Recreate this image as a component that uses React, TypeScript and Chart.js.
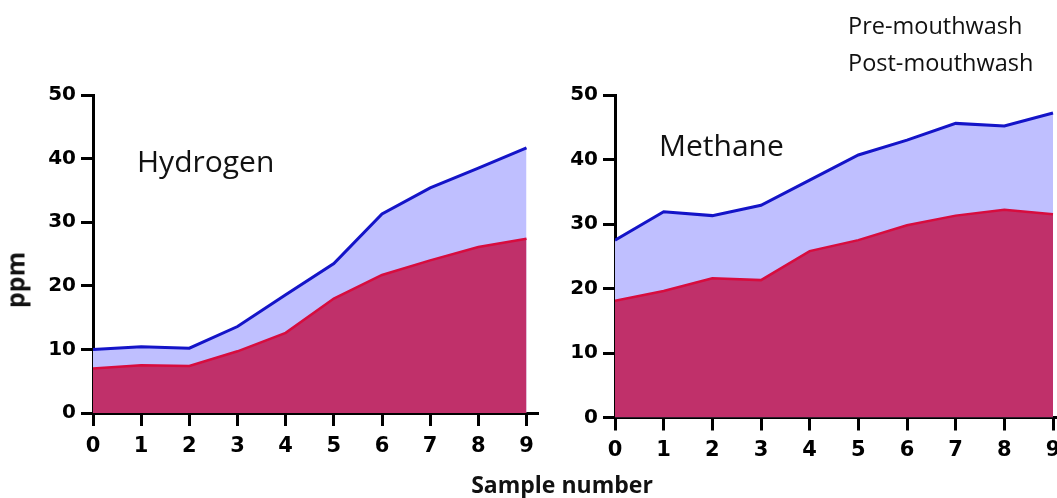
import React, { useEffect, useRef } from "react";
import { Chart, registerables } from "chart.js";

Chart.register(...registerables);

// ---- data ----
const sampleNumbers = [0, 1, 2, 3, 4, 5, 6, 7, 8, 9];
const yTickValues = [0, 10, 20, 30, 40, 50];
const seriesNames = ["Pre-mouthwash", "Post-mouthwash"];
const panelNames = ["Hydrogen", "Methane"];

const hydrogenPre = [10.0, 10.4, 10.2, 13.6, 18.6, 23.5, 31.3, 35.4, 38.5, 41.7];
const hydrogenPost = [7.0, 7.5, 7.4, 9.7, 12.6, 18.0, 21.7, 24.0, 26.1, 27.4];
const methanePre = [27.5, 31.9, 31.3, 32.9, 36.8, 40.7, 43.0, 45.6, 45.2, 47.2];
const methanePost = [18.1, 19.6, 21.6, 21.3, 25.8, 27.5, 29.8, 31.3, 32.2, 31.5];

const yAxisTitle = "ppm";
const xAxisTitle = "Sample number";

// ---- styles ----
const BLUE_LINE = "rgb(20,20,200)";
const BLUE_FILL = "rgb(191,191,255)";
const RED_LINE = "rgb(215,12,62)";
const RED_FILL = "rgb(192,48,106)";

type Geom = {
  w: number;
  h: number;
  left: number;
  top: number;
  xHeight: number;
  padRight: number;
  xMax: number;
  xPad: number;
};

function makeConfig(pre: number[], post: number[], g: Geom): any {
  const pts = (arr: number[]) => sampleNumbers.map((x, i) => ({ x, y: arr[i] }));
  return {
    type: "line",
    data: {
      datasets: [
        {
          label: seriesNames[1],
          data: pts(post),
          borderColor: RED_LINE,
          backgroundColor: RED_FILL,
          fill: "origin",
          borderWidth: 2.5,
          pointRadius: 0,
          tension: 0,
        },
        {
          label: seriesNames[0],
          data: pts(pre),
          borderColor: BLUE_LINE,
          backgroundColor: BLUE_FILL,
          fill: "origin",
          borderWidth: 3,
          pointRadius: 0,
          tension: 0,
        },
      ],
    },
    options: {
      animation: false,
      responsive: false,
      devicePixelRatio: 1,
      events: [],
      layout: { padding: { left: 0, top: g.top, right: g.padRight, bottom: 0 } },
      plugins: { legend: { display: false }, tooltip: { enabled: false }, title: { display: false } },
      scales: {
        x: {
          type: "linear",
          min: 0,
          max: g.xMax,
          z: 1,
          afterBuildTicks: (s: any) => {
            s.ticks = sampleNumbers.map((v) => ({ value: v }));
          },
          afterFit: (s: any) => {
            s.height = g.xHeight;
            s.paddingLeft = 0;
            s.paddingRight = 0;
          },
          grid: {
            display: true,
            drawOnChartArea: false,
            drawTicks: true,
            tickLength: 13,
            tickWidth: 3,
            tickColor: "#000",
            color: "#000",
            lineWidth: 3,
          },
          border: { display: true, color: "#000", width: 3 },
          ticks: {
            color: "#000",
            font: { family: '"DejaVu Sans", sans-serif', weight: "bold", size: 21 },
            padding: g.xPad,
            maxRotation: 0,
            autoSkip: false,
            callback: (v: any) => String(v),
          },
        },
        y: {
          type: "linear",
          min: 0,
          max: 50,
          z: 1,
          afterBuildTicks: (s: any) => {
            s.ticks = yTickValues.map((v) => ({ value: v }));
          },
          afterFit: (s: any) => {
            s.width = g.left;
            s.paddingTop = 0;
            s.paddingBottom = 0;
          },
          grid: {
            display: true,
            drawOnChartArea: false,
            drawTicks: true,
            tickLength: 12,
            tickWidth: 3,
            tickColor: "#000",
            color: "#000",
            lineWidth: 3,
          },
          border: { display: true, color: "#000", width: 3 },
          ticks: {
            color: "#000",
            font: { family: '"DejaVu Sans", sans-serif', weight: "bold", size: 20 },
            padding: 5,
            autoSkip: false,
            callback: (v: any) => String(v),
          },
        },
      },
    },
  };
}

const leftGeom: Geom = {
  w: 560,
  h: 470,
  left: 93,
  top: 95,
  xHeight: 57,
  padRight: 23,
  xMax: (9 * (537 - 93)) / (526.5 - 93),
  xPad: 8,
};

const rightGeom: Geom = {
  w: 540,
  h: 470,
  left: 85,
  top: 95,
  xHeight: 52.5,
  padRight: 7,
  xMax: (9 * (533 - 85)) / (523 - 85),
  xPad: 7,
};

const textBase: React.CSSProperties = {
  position: "absolute",
  fontFamily: '"Open Sans", "Noto Sans", sans-serif',
  lineHeight: 1,
  whiteSpace: "nowrap",
  color: "#111",
};

export default function App() {
  const leftRef = useRef<HTMLCanvasElement | null>(null);
  const rightRef = useRef<HTMLCanvasElement | null>(null);

  useEffect(() => {
    const c1 = new Chart(leftRef.current as HTMLCanvasElement, makeConfig(hydrogenPre, hydrogenPost, leftGeom));
    const c2 = new Chart(rightRef.current as HTMLCanvasElement, makeConfig(methanePre, methanePost, rightGeom));
    return () => {
      c1.destroy();
      c2.destroy();
    };
  }, []);

  return (
    <div
      style={{
        position: "absolute",
        left: 0,
        top: 0,
        width: 1057,
        height: 498,
        overflow: "hidden",
        background: "#fff",
      }}
    >
      <canvas
        ref={leftRef}
        width={leftGeom.w}
        height={leftGeom.h}
        style={{ position: "absolute", left: 0, top: 0, width: leftGeom.w, height: leftGeom.h }}
      />
      <canvas
        ref={rightRef}
        width={rightGeom.w}
        height={rightGeom.h}
        style={{ position: "absolute", left: 530, top: 0, width: rightGeom.w, height: rightGeom.h }}
      />
      <div style={{ ...textBase, left: 137, top: 145.5, fontSize: 30 }}>{panelNames[0]}</div>
      <div style={{ ...textBase, left: 659, top: 130, fontSize: 30 }}>{panelNames[1]}</div>
      <div style={{ ...textBase, left: 848, top: 14, fontSize: 23.5 }}>{seriesNames[0]}</div>
      <div style={{ ...textBase, left: 848, top: 51, fontSize: 23.5 }}>{seriesNames[1]}</div>
      <div
        style={{
          ...textBase,
          left: 562,
          top: 473,
          fontSize: 23,
          fontWeight: 700,
          transform: "translateX(-50%)",
        }}
      >
        {xAxisTitle}
      </div>
      <div
        style={{
          ...textBase,
          left: 15,
          top: 280,
          fontSize: 25,
          fontWeight: 700,
          transform: "translate(-50%, -50%) rotate(-90deg)",
        }}
      >
        {yAxisTitle}
      </div>
    </div>
  );
}
